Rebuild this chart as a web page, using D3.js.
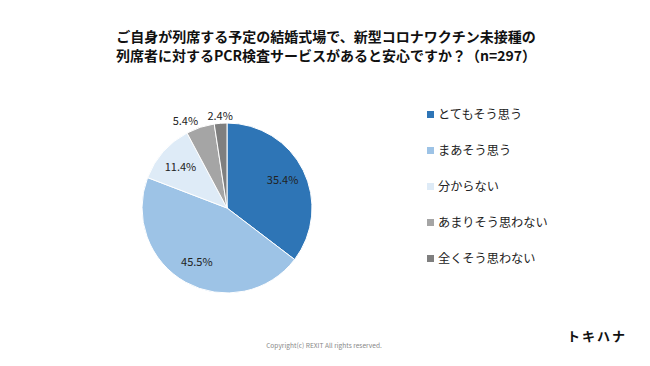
<!DOCTYPE html>
<html>
<head>
<meta charset="utf-8">
<script src="https://cdn.jsdelivr.net/npm/d3@7"></script>
<style>
  body { margin: 0; background: #fff; }
  text { font-family: "Noto Sans CJK JP", "Noto Sans", sans-serif; }
</style>
</head>
<body>
<svg id="chart" width="650" height="366"></svg>
<script>
const titleLines = [
  'ご自身が列席する予定の結婚式場で、新型コロナワクチン未接種の',
  '列席者に対するPCR検査サービスがあると安心ですか？（n=297）'
];
const categories = ['とてもそう思う', 'まあそう思う', '分からない', 'あまりそう思わない', '全くそう思わない'];
const values = [35.4, 45.5, 11.4, 5.4, 2.4];
const colors = ['#2e75b6', '#9dc3e6', '#deebf7', '#a5a5a5', '#7f7f7f'];

const svg = d3.select('#chart');
const cx = 227, cy = 208, r = 85;

// title
svg.append('g')
  .selectAll('text')
  .data(titleLines)
  .join('text')
  .attr('x', 326)
  .attr('y', (d, i) => 42 + i * 19)
  .attr('text-anchor', 'middle')
  .attr('font-size', 14)
  .attr('font-weight', 'bold')
  .attr('fill', '#111')
  .text(d => d);

const pie = d3.pie().sort(null).value(d => d);
const arcs = pie(values);
const arc = d3.arc().innerRadius(0).outerRadius(r);
const labelArc = d3.arc().innerRadius(r * 0.73).outerRadius(r * 0.73);
const outerArc = d3.arc().innerRadius(r + 7).outerRadius(r + 7);

const g = svg.append('g').attr('transform', `translate(${cx},${cy})`);

g.selectAll('path')
  .data(arcs)
  .join('path')
  .attr('d', arc)
  .attr('fill', (d, i) => colors[i])
  .attr('stroke', '#fff')
  .attr('stroke-width', 1);

// small slices get their labels outside the pie
const isSmall = d => d.data < 6;
g.selectAll('text')
  .data(arcs)
  .join('text')
  .each(function (d) {
    const p = isSmall(d) ? outerArc.centroid(d) : labelArc.centroid(d);
    d3.select(this)
      .attr('x', p[0]).attr('y', p[1])
      .attr('text-anchor', isSmall(d) && p[0] < -15 ? 'end' : 'middle');
  })
  .attr('dy', '0.35em')
  .attr('font-size', 11)
  .attr('fill', '#222')
  .text(d => d.data.toFixed(1) + '%');

// legend
const legend = svg.append('g')
  .selectAll('g')
  .data(categories)
  .join('g')
  .attr('transform', (d, i) => `translate(427,${115 + i * 36})`);

legend.append('rect')
  .attr('x', 0).attr('y', -4)
  .attr('width', 7).attr('height', 7)
  .attr('fill', (d, i) => colors[i]);

legend.append('text')
  .attr('x', 11)
  .attr('dy', '0.35em')
  .attr('font-size', 12.2)
  .attr('fill', '#222')
  .text(d => d);

svg.append('text')
  .attr('x', 324).attr('y', 348)
  .attr('text-anchor', 'middle')
  .attr('font-size', 6.6)
  .attr('fill', '#888')
  .text('Copyright(c) REXIT All rights reserved.');

svg.append('text')
  .attr('x', 597).attr('y', 341)
  .attr('text-anchor', 'middle')
  .attr('font-size', 13)
  .attr('font-weight', 'bold')
  .attr('letter-spacing', 2)
  .attr('fill', '#111')
  .text('トキハナ');
</script>
</body>
</html>
